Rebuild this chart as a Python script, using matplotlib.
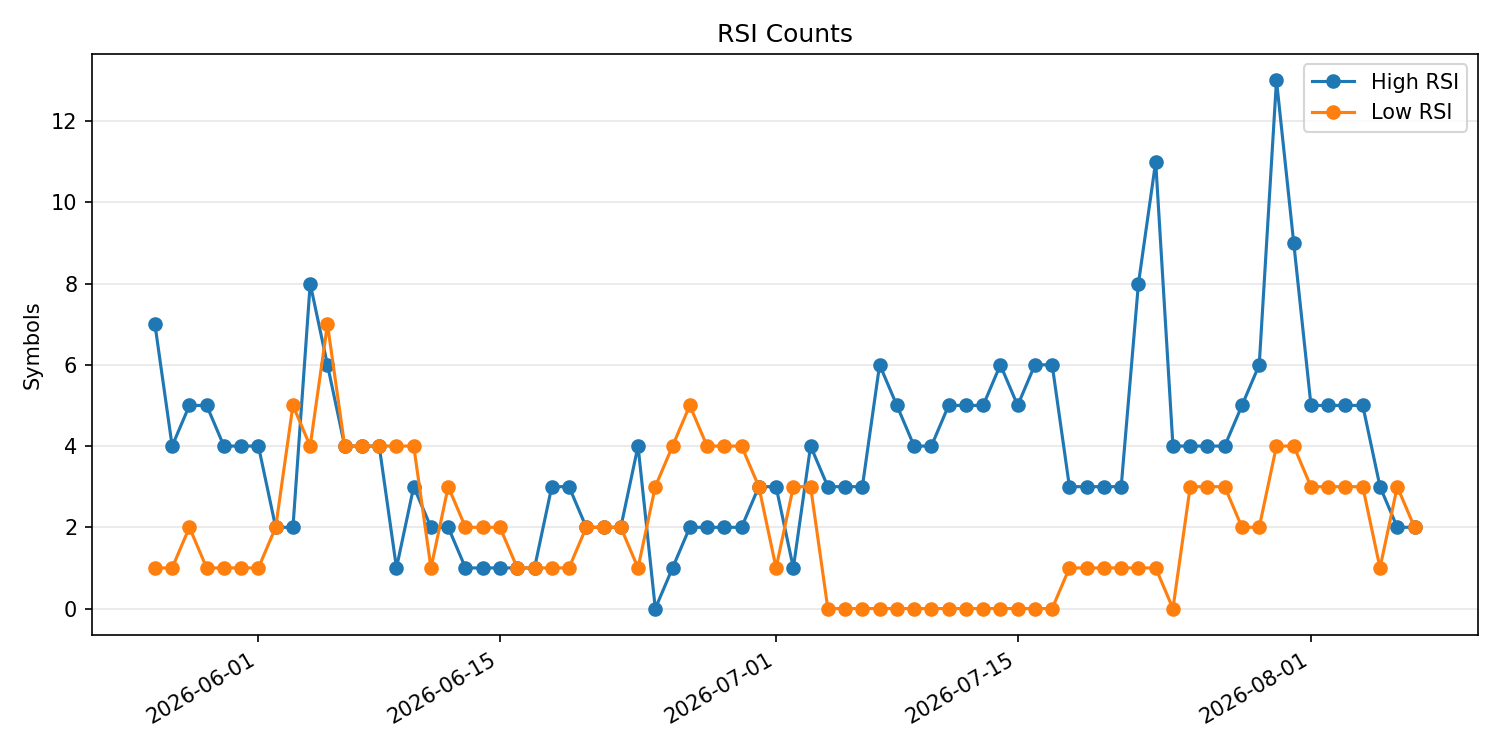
import matplotlib
matplotlib.use('Agg')
import matplotlib.pyplot as plt
import pandas as pd

# daily counts, 2026-05-26 .. 2026-08-07
dates = pd.date_range('2026-05-26', '2026-08-07', freq='D')
high_rsi = [7, 4, 5, 5, 4, 4, 4, 2, 2, 8, 6, 4, 4, 4, 1, 3, 2, 2, 1, 1,
            1, 1, 1, 3, 3, 2, 2, 2, 4, 0, 1, 2, 2, 2, 2, 3, 3, 1, 4, 3,
            3, 3, 6, 5, 4, 4, 5, 5, 5, 6, 5, 6, 6, 3, 3, 3, 3, 8, 11, 4,
            4, 4, 4, 5, 6, 13, 9, 5, 5, 5, 5, 3, 2, 2]
low_rsi = [1, 1, 2, 1, 1, 1, 1, 2, 5, 4, 7, 4, 4, 4, 4, 4, 1, 3, 2, 2,
           2, 1, 1, 1, 1, 2, 2, 2, 1, 3, 4, 5, 4, 4, 4, 3, 1, 3, 3, 0,
           0, 0, 0, 0, 0, 0, 0, 0, 0, 0, 0, 0, 0, 1, 1, 1, 1, 1, 1, 0,
           3, 3, 3, 2, 2, 4, 4, 3, 3, 3, 3, 1, 3, 2]

df = pd.DataFrame({'date': dates, 'high': high_rsi, 'low': low_rsi})

fig, ax = plt.subplots(figsize=(10, 5), dpi=150)
ax.plot(df['date'], df['high'], marker='o', label='High RSI')
ax.plot(df['date'], df['low'], marker='o', label='Low RSI')
ax.set_title('RSI Counts')
ax.set_ylabel('Symbols')
ax.grid(axis='y', alpha=0.3)
ax.legend(loc='upper right')
fig.autofmt_xdate()
fig.tight_layout()
fig.savefig('out.png')
